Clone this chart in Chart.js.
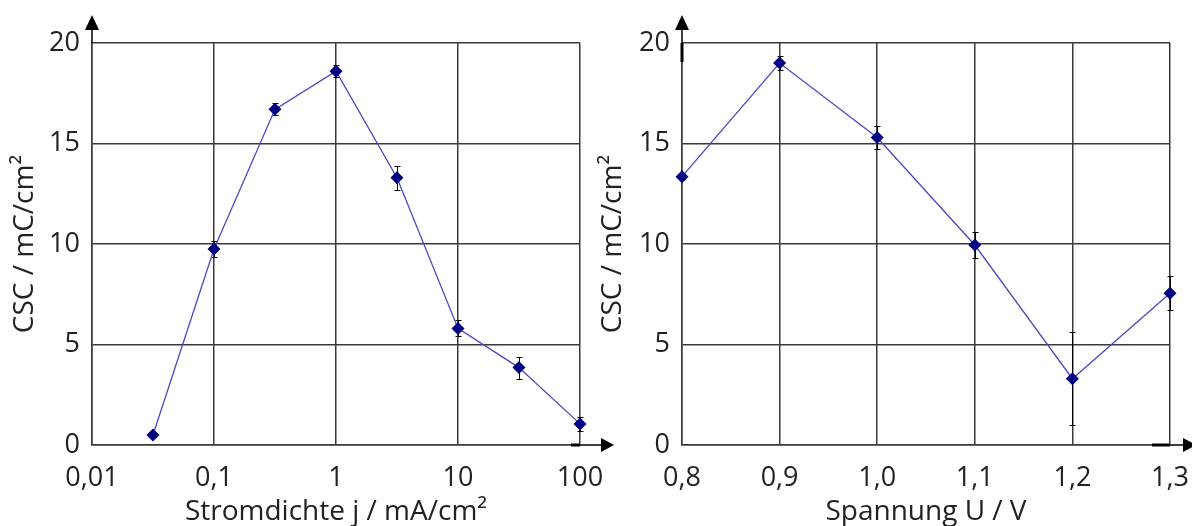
<!DOCTYPE html>
<html>
<head>
<meta charset="utf-8">
<script src="https://cdn.jsdelivr.net/npm/chart.js@4"></script>
<style>
body{margin:0;background:#fff;width:1192px;height:526px;overflow:hidden;position:relative}
#c1{position:absolute;left:0;top:0}
#c2{position:absolute;left:590px;top:0}
</style>
</head>
<body>
<canvas id="c1" width="620" height="526" style="width:620px;height:526px"></canvas>
<canvas id="c2" width="602" height="526" style="width:602px;height:526px"></canvas>
<script>
// left: CSC vs current density (log x)
var stromdichte = [0.0316, 0.1, 0.316, 1, 3.16, 10, 31.6, 100];
var cscStrom = [0.5, 9.75, 16.7, 18.6, 13.3, 5.8, 3.85, 1.05];
var cscStromErr = [0.1, 0.4, 0.3, 0.3, 0.6, 0.4, 0.55, 0.35];

// right: CSC vs voltage
var spannung = [0.8, 0.9, 1.0, 1.1, 1.2, 1.3];
var cscSpannung = [13.35, 19.0, 15.3, 9.95, 3.3, 7.55];
var cscSpannungErr = [0.1, 0.35, 0.55, 0.65, 2.3, 0.85];

var stromTicks = [0.01, 0.1, 1, 10, 100];
var stromTickLabels = ['0,01', '0,1', '1', '10', '100'];
var spannungTicks = [0.8, 0.9, 1.0, 1.1, 1.2, 1.3];
var spannungTickLabels = ['0,8', '0,9', '1,0', '1,1', '1,2', '1,3'];
var cscTicks = [0, 5, 10, 15, 20];

var FONT = "'Open Sans', 'DejaVu Sans', sans-serif";
var GRID = '#3a3a3a';

var errorBars = {
	id: 'errorBars',
	beforeDatasetsDraw: function(chart){
		var ctx = chart.ctx;
		var ds = chart.data.datasets[0];
		var meta = chart.getDatasetMeta(0);
		var ys = chart.scales.y;
		ctx.save();
		ctx.strokeStyle = '#000';
		ctx.lineWidth = 1;
		meta.data.forEach(function(pt, i){
			var v = ds.data[i].y, e = ds.errors[i];
			var top = Math.round(ys.getPixelForValue(v + e)) + 0.5;
			var bot = Math.round(ys.getPixelForValue(v - e)) + 0.5;
			var x = Math.round(pt.x) + 0.5;
			ctx.beginPath();
			ctx.moveTo(x, top); ctx.lineTo(x, bot);
			ctx.moveTo(x - 3, top); ctx.lineTo(x + 3, top);
			ctx.moveTo(x - 3, bot); ctx.lineTo(x + 3, bot);
			ctx.stroke();
		});
		ctx.restore();
	}
};

var axisArrows = {
	id: 'axisArrows',
	afterDraw: function(chart){
		var ctx = chart.ctx, a = chart.chartArea;
		var o = chart.options.plugins.axisArrows;
		ctx.save();
		ctx.fillStyle = '#000';
		ctx.strokeStyle = '#000';
		ctx.lineWidth = 1.5;
		// y arrow
		ctx.beginPath();
		ctx.moveTo(a.left, a.top); ctx.lineTo(a.left, a.top - 14);
		ctx.stroke();
		ctx.beginPath();
		ctx.moveTo(a.left, a.top - 28);
		ctx.lineTo(a.left - 7, a.top - 13);
		ctx.lineTo(a.left + 7, a.top - 13);
		ctx.closePath();
		ctx.fill();
		// x arrow
		var base = a.right + o.xGap;
		ctx.beginPath();
		ctx.moveTo(a.right, a.bottom); ctx.lineTo(base + 1, a.bottom);
		ctx.stroke();
		ctx.beginPath();
		ctx.moveTo(base + 13, a.bottom);
		ctx.lineTo(base, a.bottom - 7);
		ctx.lineTo(base, a.bottom + 7);
		ctx.closePath();
		ctx.fill();
		// short thick bits near the axis ends
		ctx.lineWidth = 3;
		if(o.xThick){
			ctx.beginPath();
			ctx.moveTo(a.right - o.xThick, a.bottom); ctx.lineTo(a.right, a.bottom);
			ctx.stroke();
		}
		if(o.yThick){
			ctx.beginPath();
			ctx.moveTo(a.left, a.top); ctx.lineTo(a.left, a.top + o.yThick);
			ctx.stroke();
		}
		ctx.restore();
	}
};

function makeChart(id, xs, ys, errs, xScale, titleX, yTitlePad, padRight, arrows){
	var pts = [];
	for(var i=0;i<xs.length;i++) pts.push({x: xs[i], y: ys[i]});
	xScale.title = {display: true, text: titleX, color: '#222', font: {family: FONT, size: 28, lineHeight: 1}, padding: {top: 0, bottom: 0}};
	xScale.grid = {color: GRID, lineWidth: 1.5, drawTicks: false};
	xScale.border = {color: GRID, width: 1.5};
	xScale.afterFit = function(s){ s.height = 81; s.paddingLeft = 0; s.paddingRight = 0; };
	xScale.ticks.color = '#222';
	xScale.ticks.font = {family: FONT, size: 27};
	xScale.ticks.padding = 17;
	xScale.ticks.maxRotation = 0;
	xScale.ticks.autoSkip = false;
	return new Chart(document.getElementById(id), {
		type: 'line',
		data: {
			datasets: [{
				data: pts,
				errors: errs,
				borderColor: '#4848c4',
				borderWidth: 1.3,
				pointStyle: 'rectRot',
				pointRadius: 6.5,
				pointBackgroundColor: '#000080',
				pointBorderColor: '#000080',
				pointBorderWidth: 0,
				tension: 0,
				fill: false,
				clip: false
			}]
		},
		options: {
			responsive: false,
			animation: false,
			layout: {padding: {top: 43, right: padRight, bottom: 0, left: 0}},
			plugins: {
				legend: {display: false},
				tooltip: {enabled: false},
				axisArrows: arrows
			},
			scales: {
				x: xScale,
				y: {
					type: 'linear',
					min: 0,
					max: 20,
					afterFit: function(s){ s.width = 92; s.paddingTop = 0; s.paddingBottom = 0; },
					afterBuildTicks: function(s){ s.ticks = cscTicks.map(function(v){ return {value: v}; }); },
					grid: {color: GRID, lineWidth: 1.5, drawTicks: false},
					border: {color: GRID, width: 1.5},
					ticks: {color: '#222', font: {family: FONT, size: 27}, padding: 12},
					title: {display: true, text: 'CSC / mC/cm²', color: '#222', font: {family: FONT, size: 28, lineHeight: 1}, padding: {top: yTitlePad, bottom: 0}}
				}
			}
		},
		plugins: [errorBars, axisArrows]
	});
}

makeChart('c1', stromdichte, cscStrom, cscStromErr, {
	type: 'logarithmic',
	min: 0.01,
	max: 100,
	afterBuildTicks: function(s){ s.ticks = stromTicks.map(function(v){ return {value: v}; }); },
	ticks: {callback: function(v, i){ return stromTickLabels[i]; }}
}, 'Stromdichte j / mA/cm²', 11, 40, {xGap: 21, xThick: 9, yThick: 0});

makeChart('c2', spannung, cscSpannung, cscSpannungErr, {
	type: 'linear',
	min: 0.8,
	max: 1.3,
	afterBuildTicks: function(s){ s.ticks = spannungTicks.map(function(v){ return {value: v}; }); },
	ticks: {callback: function(v, i){ return spannungTickLabels[i]; }}
}, 'Spannung U / V', 9, 22, {xGap: 13, xThick: 18, yThick: 19});
</script>
</body>
</html>
